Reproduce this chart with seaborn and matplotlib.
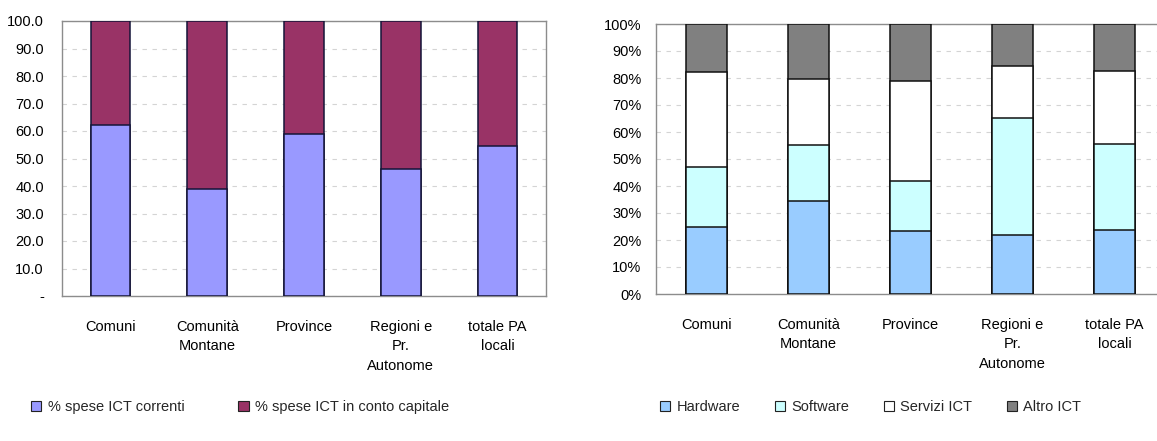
import matplotlib
matplotlib.use("Agg")
import matplotlib.pyplot as plt
import seaborn as sns
import numpy as np
from matplotlib.patches import Patch


# Data
categories = ["Comuni", "Comunità\nMontane", "Province", "Regioni e\nPr.\nAutonome", "totale PA\nlocali"]

# left chart: current vs capital ICT spending (%)
correnti = [62.3, 38.8, 58.9, 46.2, 54.4]
capitale = [37.7, 61.2, 41.1, 53.8, 45.6]

# right chart: ICT spending by type (%)
hardware = [24.9, 34.4, 23.2, 21.7, 23.7]
software = [22.0, 20.8, 18.6, 43.5, 31.9]
servizi = [35.2, 24.6, 37.1, 19.4, 27.1]
altro = [17.9, 20.2, 21.1, 15.4, 17.3]

left_labels = ["% spese ICT correnti", "% spese ICT in conto capitale"]
right_labels = ["Hardware", "Software", "Servizi ICT", "Altro ICT"]
left_ticks = ["-"] + [f"{v:.1f}" for v in range(10, 101, 10)]
right_ticks = [f"{v}%" for v in range(0, 101, 10)]


# Style
sns.set_style("white")
plt.rcParams["font.family"] = ["Liberation Sans", "DejaVu Sans"]
fs = 10.5
frame_grey = "#8c8c8c"
grid_grey = "#d4d4d4"

left_colors = ["#9999ff", "#993366"]
right_colors = ["#99ccff", "#ccffff", "#ffffff", "#808080"]

fig = plt.figure(figsize=(11.57, 4.41), dpi=100, facecolor="white")
ax1 = fig.add_axes([62 / 1157, 145 / 441, 484 / 1157, 275 / 441])
ax2 = fig.add_axes([655.5 / 1157, 147 / 441, 510 / 1157, 270 / 441])


def stacked(ax, series, colors, edge, width):
    # draw cumulative totals from the top down so each layer overlays the next
    cum = np.cumsum(np.array(series), axis=0)
    for i in range(len(series) - 1, -1, -1):
        sns.barplot(x=categories, y=cum[i], color=colors[i], saturation=1,
                    width=width, edgecolor=edge, linewidth=1.1, ax=ax, zorder=3)


stacked(ax1, [correnti, capitale], left_colors, "#141438", 0.41)
stacked(ax2, [hardware, software, servizi, altro], right_colors, "#111111", 0.40)

for ax, labels in [(ax1, left_ticks), (ax2, right_ticks)]:
    ax.set_ylim(0, 100)
    ax.set_xlim(-0.5, 4.5)
    ax.set_yticks(range(0, 101, 10))
    ax.set_yticklabels(labels)
    ax.yaxis.grid(True, linestyle=(0, (4, 5)), color=grid_grey, linewidth=0.8)
    ax.xaxis.grid(False)
    ax.set_axisbelow(True)
    ax.set_xlabel("")
    ax.set_ylabel("")
    ax.tick_params(axis="y", labelsize=fs, colors="black", length=3, color=frame_grey, pad=10)
    ax.tick_params(axis="x", labelsize=fs, colors="black", length=0, pad=17)
    for t in ax.get_xticklabels():
        t.set_linespacing(1.5)
        t.set_horizontalalignment("center")
    for spine in ax.spines.values():
        spine.set_color(frame_grey)
        spine.set_linewidth(1.0)

ax2.tick_params(axis="y", pad=7)
ax2.spines["right"].set_visible(False)


# Legends
def handles(colors):
    return [Patch(facecolor=c, edgecolor="#222222", linewidth=0.8) for c in colors]


fig.legend(handles(left_colors), left_labels, loc="center left",
           bbox_to_anchor=(31 / 1157, 1 - 407 / 441), ncol=2, frameon=False,
           fontsize=fs, handlelength=0.7, handleheight=0.7, handletextpad=0.45,
           columnspacing=3.7, borderpad=0, borderaxespad=0)

fig.legend(handles(right_colors), right_labels, loc="center left",
           bbox_to_anchor=(660 / 1157, 1 - 407 / 441), ncol=4, frameon=False,
           fontsize=fs, handlelength=0.7, handleheight=0.7, handletextpad=0.45,
           columnspacing=2.35, borderpad=0, borderaxespad=0)

fig.savefig("out.png", dpi=100, facecolor="white")
